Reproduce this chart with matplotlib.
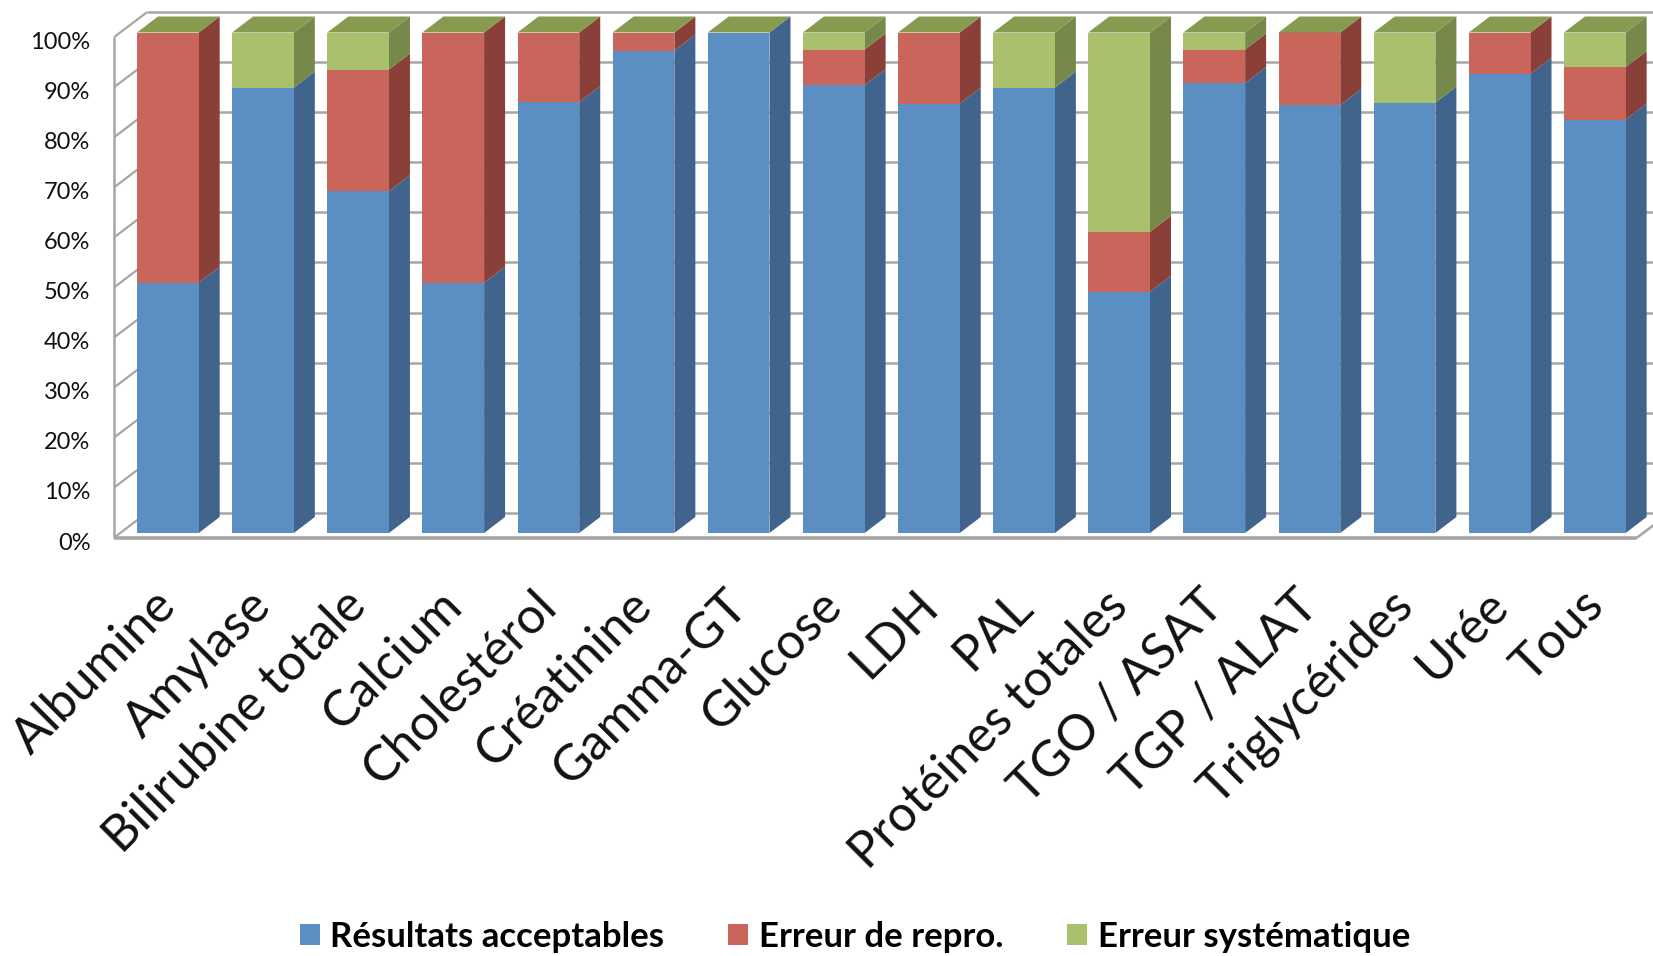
import matplotlib
matplotlib.use('Agg')
import matplotlib.pyplot as plt
from matplotlib.patches import Patch, Polygon
from matplotlib.transforms import ScaledTranslation
import numpy as np

categories = ['Albumine', 'Amylase', 'Bilirubine totale', 'Calcium', 'Cholestérol',
              'Créatinine', 'Gamma-GT', 'Glucose', 'LDH', 'PAL', 'Protéines totales',
              'TGO / ASAT', 'TGP / ALAT', 'Triglycérides', 'Urée', 'Tous']
acceptables = [50, 89, 68.3, 50, 86.1, 96.4, 100, 89.5, 85.8, 89, 48.2, 89.9, 85.5, 86, 91.8, 82.6]
repro = [50, 0, 24.3, 50, 13.9, 3.6, 0, 7.1, 14.2, 0, 12, 6.7, 14.5, 0, 8.2, 10.5]
systematique = [0, 11, 7.4, 0, 0, 0, 0, 3.4, 0, 11, 39.8, 3.4, 0, 14, 0, 6.9]
y_ticks = [0, 10, 20, 30, 40, 50, 60, 70, 80, 90, 100]
series_names = ['Résultats acceptables', 'Erreur de repro.', 'Erreur systématique']

front_colors = ['#5B8FC4', '#CA655B', '#A9C16C']
side_colors = ['#41648C', '#8A4038', '#76894A']
top_color = '#869A50'
wall_color = '#A6A6A6'

W, H = 1653, 956
plt.rcParams['font.family'] = ['Lato', 'DejaVu Sans']
fig = plt.figure(figsize=(W / 100, H / 100), dpi=100)

# pixel layout of the plot box
pitch = 95.13
x0_px = 167.85
y_scale = 5.005
y0_px = 533
left, top, bottom = 114, 12.5, 537.7
ax = fig.add_axes([left / W, 1 - bottom / H, (W - left) / W, (bottom - top) / H])
ax.set_xlim((left - x0_px) / pitch, (W - x0_px) / pitch)
ax.set_ylim((y0_px - bottom) / y_scale, (y0_px - top) / y_scale)

bar_w = 61.7 / pitch
depth_x = 21 / pitch
depth_y = 16 / y_scale
wall_x = 33 / pitch
wall_y = 25 / y_scale
front_shift = ax.get_ylim()[0]
xl = ax.get_xlim()[0]
xr = (1637 - x0_px) / pitch
line_kw = dict(color=wall_color, clip_on=False, zorder=1, solid_capstyle='butt')

# walls and gridlines
for v in y_ticks:
    yf = v + front_shift
    yb = yf + wall_y
    ax.plot([xl, xl + wall_x], [yf, yb], lw=1.6, **line_kw)
    ax.plot([xl + wall_x, ax.get_xlim()[1]], [yb, yb], lw=1.8, **line_kw)
ax.plot([xl, xl], [front_shift, 100 + front_shift], lw=1.8, **line_kw)
ax.plot([xl, xr], [front_shift, front_shift], lw=2.6, **line_kw)
ax.plot([xr, xr + wall_x], [front_shift, front_shift + wall_y], lw=1.8, **line_kw)

# stacked bars with their side and top faces
x = np.arange(len(categories))
series = [np.array(acceptables), np.array(repro), np.array(systematique)]
base = np.zeros(len(categories))
for vals, fc, sc in zip(series, front_colors, side_colors):
    ax.bar(x, vals, bar_w, bottom=base, color=fc, edgecolor='none', zorder=3)
    for xi, b, v in zip(x, base, vals):
        if v <= 0:
            continue
        xe = xi + bar_w / 2
        ax.add_patch(Polygon([(xe, b), (xe + depth_x, b + depth_y),
                              (xe + depth_x, b + v + depth_y), (xe, b + v)],
                             facecolor=sc, edgecolor='none', zorder=2.5))
    base = base + vals
for xi, t in zip(x, base):
    xa = xi - bar_w / 2
    ax.add_patch(Polygon([(xa, t), (xa + depth_x, t + depth_y),
                          (xa + bar_w + depth_x, t + depth_y), (xa + bar_w, t)],
                         facecolor=top_color, edgecolor='none', zorder=3))

ax.set_yticks(y_ticks)
ax.set_yticklabels([f'{v}%' for v in y_ticks], fontsize=17, color='#111111')
ax.set_xticks(x)
ax.set_xticklabels(categories, fontsize=36, rotation=45, ha='right', va='top',
                   rotation_mode='anchor', color='#111111')
ax.tick_params(axis='y', length=0, pad=17)
ax.tick_params(axis='x', length=0, pad=32)
for lab in ax.get_yticklabels():
    lab.set_transform(lab.get_transform() + ScaledTranslation(0, -8 / 100, fig.dpi_scale_trans))
for lab in ax.get_xticklabels():
    lab.set_transform(lab.get_transform() + ScaledTranslation(-15 / 100, 0, fig.dpi_scale_trans))
for sp in ax.spines.values():
    sp.set_visible(False)
ax.patch.set_visible(False)

handles = [Patch(facecolor=c, edgecolor='none', label=n) for c, n in zip(front_colors, series_names)]
leg = ax.legend(handles=handles, ncol=3, loc='center', bbox_to_anchor=(855 / W, 1 - 937 / H),
                bbox_transform=fig.transFigure, frameon=False,
                prop={'weight': 'bold', 'size': 25}, handlelength=0.57, handleheight=0.57,
                handletextpad=0.3, columnspacing=1.85, borderpad=0, borderaxespad=0)
for t in leg.get_texts():
    t.set_color('#000000')

fig.savefig('out.png', dpi=100)
